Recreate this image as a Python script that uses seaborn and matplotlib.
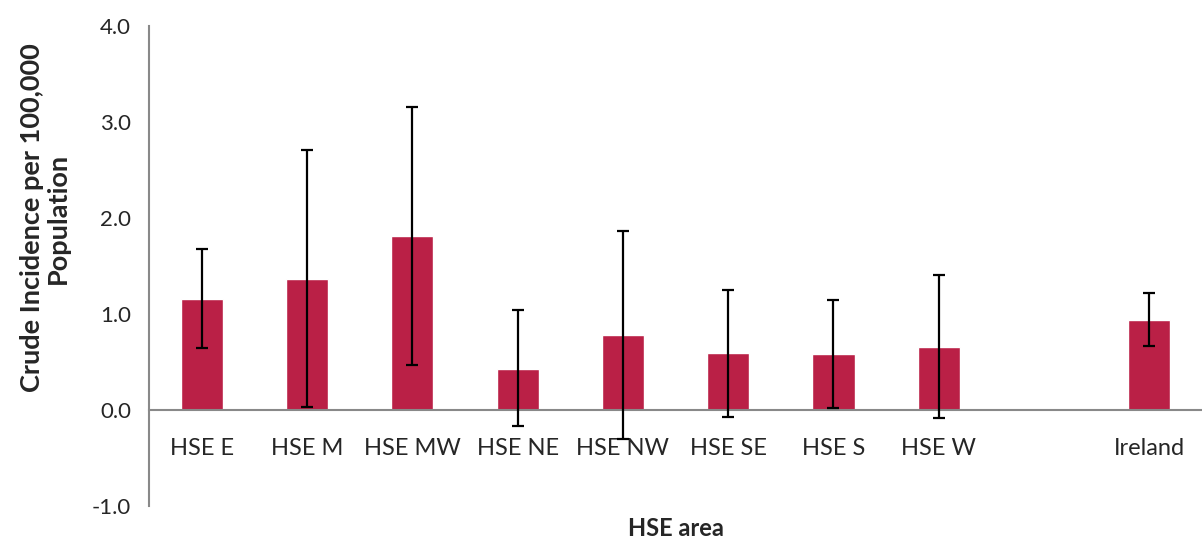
import numpy as np
import pandas as pd
import matplotlib
matplotlib.use("Agg")
import matplotlib.pyplot as plt
import seaborn as sns

# HSE areas (one empty slot before Ireland, as in the original chart)
areas = ["HSE E", "HSE M", "HSE MW", "HSE NE", "HSE NW", "HSE SE", "HSE S", "HSE W", "", "Ireland"]
incidence = [1.16, 1.36, 1.81, 0.43, 0.78, 0.59, 0.58, 0.66, np.nan, 0.94]
ci_low = [0.65, 0.03, 0.47, -0.17, -0.30, -0.07, 0.02, -0.08, np.nan, 0.67]
ci_high = [1.68, 2.71, 3.16, 1.04, 1.86, 1.25, 1.15, 1.41, np.nan, 1.22]

BAR_COLOR = "#BA2046"
AXIS_COLOR = "#898989"

sns.set_style("white")
plt.rcParams["font.family"] = ["Lato", "DejaVu Sans"]

df = pd.DataFrame({"area": areas, "rate": incidence, "low": ci_low, "high": ci_high})

fig = plt.figure(figsize=(12.02, 5.41), dpi=100)
ax = fig.add_axes([0.124, 0.0647, 0.876, 0.8873])

sns.barplot(data=df, x="area", y="rate", order=areas, color=BAR_COLOR,
            saturation=1, width=0.4, errorbar=None, ax=ax)

# asymmetric confidence intervals
ok = df["rate"].notna()
xpos = np.arange(len(areas))[ok.values]
yerr = np.vstack([df.loc[ok, "rate"] - df.loc[ok, "low"],
                  df.loc[ok, "high"] - df.loc[ok, "rate"]])
ax.errorbar(xpos, df.loc[ok, "rate"], yerr=yerr, fmt="none", ecolor="black",
            elinewidth=1.6, capsize=4.5, capthick=1.6, zorder=5)

ax.set_ylim(-1.0, 4.0)
ax.set_xlim(-0.5, 9.41)
ax.set_yticks(np.arange(-1.0, 4.01, 1.0))
ax.set_yticklabels([f"{v:.1f}" for v in np.arange(-1.0, 4.01, 1.0)])

# category labels at centres, tick marks at the boundaries
ax.set_xticks(np.arange(len(areas)))
ax.set_xticklabels(areas)
ax.set_xticks(np.arange(-0.5, len(areas), 1.0), minor=True)
ax.tick_params(axis="x", which="major", length=0, pad=20, labelsize=17)
ax.tick_params(axis="x", which="minor", length=6, width=1.5, color=AXIS_COLOR, direction="out")
ax.tick_params(axis="y", which="major", length=6, width=1.5, color=AXIS_COLOR, direction="out",
               pad=7, labelsize=16)

for side in ["top", "right"]:
    ax.spines[side].set_visible(False)
ax.spines["bottom"].set_position(("data", 0))
for side in ["left", "bottom"]:
    ax.spines[side].set_color(AXIS_COLOR)
    ax.spines[side].set_linewidth(1.5)

ax.set_ylabel("Crude Incidence per 100,000\nPopulation", fontsize=19.5, fontweight="bold",
              linespacing=1.1)
ax.yaxis.set_label_coords(-0.075, 0.6)
ax.set_xlabel("HSE area", fontsize=17, fontweight="bold", va="center")
ax.xaxis.set_label_coords(0.5, -0.046)

fig.savefig("out.png", dpi=100)
